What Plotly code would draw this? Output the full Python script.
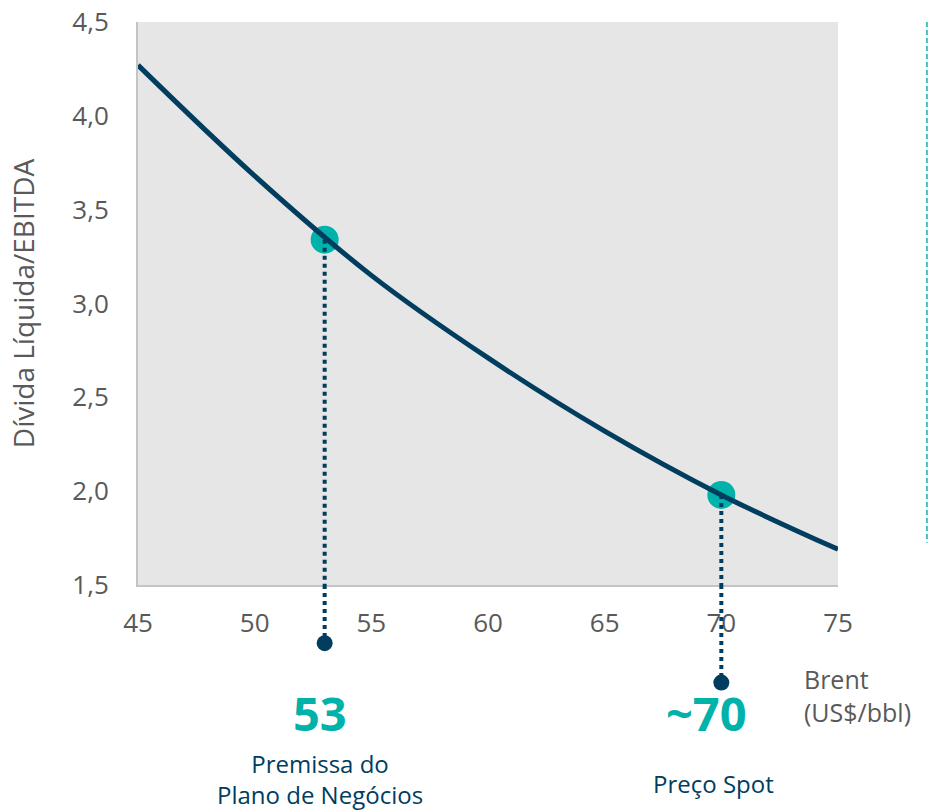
import plotly.graph_objects as go

# Leverage sensitivity: net debt / EBITDA against Brent price
brent = [45, 50, 55, 60, 65, 70, 75]
leverage = [4.27, 3.68, 3.15, 2.71, 2.32, 1.98, 1.69]

# Highlighted scenarios
scenario_brent = [53, 70]
scenario_leverage = [3.34, 1.98]
scenario_value_labels = ["53", "~70"]
scenario_names = ["Premissa do<br>Plano de Negócios", "Preço Spot"]

x_ticks = [45, 50, 55, 60, 65, 70, 75]
y_ticks = [1.5, 2.0, 2.5, 3.0, 3.5, 4.0, 4.5]

# Layout constants
Y_MIN, Y_MAX = 1.5, 4.5
X_MIN, X_MAX = 45, 75
STEM_END = [1.19, 0.98]          # where each drop line ends, in y-axis units
NAVY = "#003d5f"
TEAL = "#00b2a9"
GREY_TXT = "#595959"
FONT = "Open Sans"


def paper_y(v):
    return (v - Y_MIN) / (Y_MAX - Y_MIN)


fig = go.Figure()

# teal scenario markers (curve passes over them)
fig.add_trace(go.Scatter(
    x=scenario_brent, y=scenario_leverage, mode="markers",
    marker=dict(size=28, color=TEAL), hoverinfo="skip", showlegend=False,
))

# dotted drop lines inside the plot area
for xb, yl in zip(scenario_brent, scenario_leverage):
    fig.add_trace(go.Scatter(
        x=[xb, xb], y=[yl, Y_MIN], mode="lines",
        line=dict(color=NAVY, width=4, dash="dot"),
        hoverinfo="skip", showlegend=False,
    ))

# sensitivity curve
fig.add_trace(go.Scatter(
    x=brent, y=leverage, mode="lines",
    line=dict(color=NAVY, width=5, shape="spline", smoothing=1.0),
    hoverinfo="skip", showlegend=False,
))

shapes = []
# drop lines continuing below the axis, ending in a small dot
for xb, ye in zip(scenario_brent, STEM_END):
    shapes.append(dict(
        type="line", xref="x", yref="paper", layer="above",
        x0=xb, x1=xb, y0=0, y1=paper_y(ye),
        line=dict(color=NAVY, width=4, dash="dot"),
    ))
    shapes.append(dict(
        type="circle", xref="x", yref="paper", layer="above",
        xsizemode="pixel", ysizemode="pixel",
        xanchor=xb, yanchor=paper_y(ye),
        x0=-8, x1=8, y0=-8, y1=8,
        fillcolor=NAVY, line=dict(width=0),
    ))

# decorative dashed separator on the right
shapes.append(dict(
    type="line", xref="paper", yref="paper", layer="above",
    x0=1.127, x1=1.127, y0=1.0, y1=0.075,
    line=dict(color="#3fc4bd", width=2, dash="5px,3px"),
))

annotations = []
# big scenario values
annotations.append(dict(
    x=scenario_brent[0], y=-0.228, xref="x", yref="paper",
    text=f"<b>{scenario_value_labels[0]}</b>", showarrow=False,
    xanchor="center", yanchor="middle", xshift=-5,
    font=dict(family=FONT, size=47, color=TEAL),
))
annotations.append(dict(
    x=scenario_brent[1], y=-0.228, xref="x", yref="paper",
    text=f"<b>{scenario_value_labels[1]}</b>", showarrow=False,
    xanchor="center", yanchor="middle", xshift=-15,
    font=dict(family=FONT, size=47, color=TEAL),
))
# scenario names
annotations.append(dict(
    x=scenario_brent[0], y=-0.344, xref="x", yref="paper",
    text=scenario_names[0], showarrow=False,
    xanchor="center", yanchor="middle", xshift=-5,
    font=dict(family=FONT, size=24, color=NAVY),
))
annotations.append(dict(
    x=scenario_brent[1], y=-0.352, xref="x", yref="paper",
    text=scenario_names[1], showarrow=False,
    xanchor="center", yanchor="middle", xshift=-8,
    font=dict(family=FONT, size=24, color=NAVY),
))
# x-axis unit label
annotations.append(dict(
    x=0.949, y=-0.196, xref="paper", yref="paper",
    text="Brent<br>(US$/bbl)", showarrow=False, align="left",
    xanchor="left", yanchor="middle",
    font=dict(family=FONT, size=25, color=GREY_TXT),
))

fig.update_layout(
    width=932, height=812,
    margin=dict(l=138, r=94, t=22, b=227),
    paper_bgcolor="white",
    plot_bgcolor="#e7e6e6",
    separators=",.",
    font=dict(family=FONT, size=26, color=GREY_TXT),
    shapes=shapes,
    annotations=annotations,
    xaxis=dict(
        range=[X_MIN, X_MAX], tickvals=x_ticks, ticks="",
        showgrid=False, zeroline=False, automargin=False,
        showline=True, linecolor="#c4c4c4", linewidth=2,
        ticklabelstandoff=14,
        tickfont=dict(family=FONT, size=26, color=GREY_TXT),
    ),
    yaxis=dict(
        range=[Y_MIN, Y_MAX], tickvals=y_ticks, tickformat=".1f", ticks="",
        showgrid=False, zeroline=False, automargin=False,
        showline=True, linecolor="#c4c4c4", linewidth=2,
        ticklabelstandoff=22,
        tickfont=dict(family=FONT, size=26, color=GREY_TXT),
        title=dict(text="Dívida Líquida/EBITDA", standoff=30,
                   font=dict(family=FONT, size=28, color=GREY_TXT)),
    ),
)

fig.write_html("out.html")
